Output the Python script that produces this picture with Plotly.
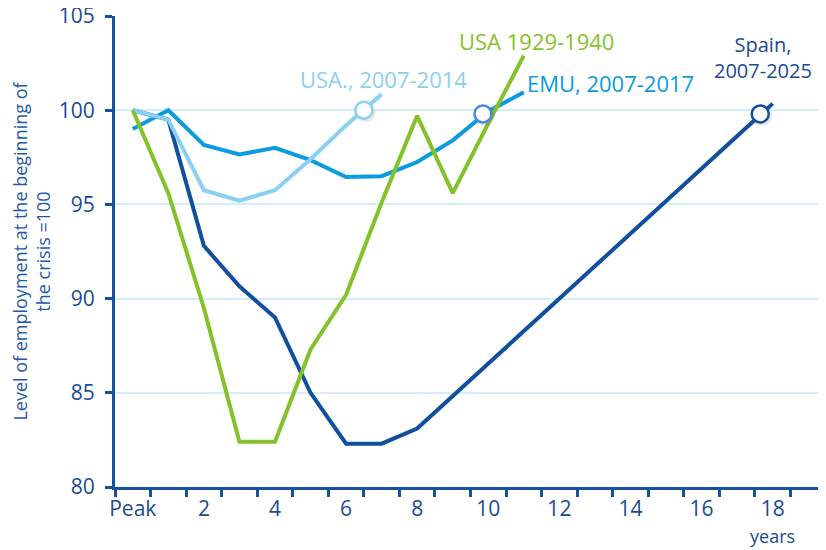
import plotly.graph_objects as go

# ---- data ----
x_labels_vals = [0, 2, 4, 6, 8, 10, 12, 14, 16, 18]
x_labels_text = ["Peak", "2", "4", "6", "8", "10", "12", "14", "16", "18"]
y_ticks = [80, 85, 90, 95, 100, 105]

spain_x = [0, 1, 2, 3, 4, 5, 6, 7, 8, 18]
spain_y = [100, 99.5, 92.8, 90.65, 89.0, 85.0, 82.3, 82.3, 83.1, 100.35]

emu_x = [0, 1, 2, 3, 4, 5, 6, 7, 8, 9, 10, 11]
emu_y = [99.0, 100.0, 98.15, 97.65, 98.0, 97.35, 96.45, 96.5, 97.25, 98.4, 99.95, 100.95]

usa07_x = [0, 1, 2, 3, 4, 5, 6, 7]
usa07_y = [100, 99.5, 95.75, 95.2, 95.75, 97.4, 99.2, 100.85]

usa29_x = [0, 1, 2, 3, 4, 5, 6, 7, 8, 9, 10, 11]
usa29_y = [100, 95.6, 89.5, 82.4, 82.4, 87.3, 90.2, 95.1, 99.7, 95.6, 99.3, 102.9]

# points where employment recovers to the pre-crisis level
recov_x = [6.5, 9.85, 17.65]
recov_y = [100.0, 99.8, 99.8]

NAVY = "#11509f"
EMU_C = "#0a9be0"
LIGHT = "#8ad0f2"
GREEN = "#84c22a"
AXIS = "#1652a0"
TEXT = "#1a4b94"
MARK_BORDER = [LIGHT, "#4a86ea", NAVY]

FONT = "Open Sans"

fig = go.Figure()
fig.add_trace(go.Scatter(x=spain_x, y=spain_y, mode="lines",
                         line=dict(color=NAVY, width=4), hoverinfo="skip"))
fig.add_trace(go.Scatter(x=emu_x, y=emu_y, mode="lines",
                         line=dict(color=EMU_C, width=4), hoverinfo="skip"))
fig.add_trace(go.Scatter(x=usa07_x, y=usa07_y, mode="lines",
                         line=dict(color=LIGHT, width=4), hoverinfo="skip"))
fig.add_trace(go.Scatter(x=usa29_x, y=usa29_y, mode="lines",
                         line=dict(color=GREEN, width=4), hoverinfo="skip"))
# soft shadow under markers
fig.add_trace(go.Scatter(x=[v + 0.05 for v in recov_x], y=[v - 0.1 for v in recov_y],
                         mode="markers",
                         marker=dict(size=20, color="rgba(80,80,80,0.13)", line=dict(width=0)),
                         hoverinfo="skip"))
fig.add_trace(go.Scatter(x=recov_x, y=recov_y, mode="markers",
                         marker=dict(size=17, color="white",
                                     line=dict(color=MARK_BORDER, width=2.5)),
                         hoverinfo="skip"))

fig.add_annotation(x=7.04, y=101.63, xref="x", yref="y", text="USA., 2007-2014",
                   showarrow=False, font=dict(family=FONT, size=22, color=LIGHT))
fig.add_annotation(x=13.44, y=101.47, xref="x", yref="y", text="EMU, 2007-2017",
                   showarrow=False, font=dict(family=FONT, size=22, color=EMU_C))
fig.add_annotation(x=11.35, y=103.65, xref="x", yref="y", text="USA 1929-1940",
                   showarrow=False, font=dict(family=FONT, size=22, color=GREEN))
fig.add_annotation(x=17.74, y=102.8, xref="x", yref="y", text="Spain,<br>2007-2025",
                   showarrow=False, font=dict(family=FONT, size=20, color=TEXT))
fig.add_annotation(x=18.0, y=-0.104, xref="x", yref="paper", yanchor="middle",
                   text="years", showarrow=False,
                   font=dict(family=FONT, size=18, color=TEXT))

# the page body adds an 8px offset, so the figure is sized to compensate
fig.update_layout(
    width=818, height=542,
    margin=dict(l=107, r=0, t=8, b=63),
    paper_bgcolor="white", plot_bgcolor="white",
    showlegend=False,
    font=dict(family=FONT, color=TEXT),
)
fig.update_xaxes(
    range=[-0.5, 19.5], automargin=False,
    tickvals=x_labels_vals, ticktext=x_labels_text,
    ticks="", showgrid=False, zeroline=False,
    showline=True, linecolor=AXIS, linewidth=3,
    tickfont=dict(family=FONT, size=21, color=TEXT),
    ticklabelstandoff=1,
    minor=dict(ticks="outside", tick0=-0.5, dtick=1, ticklen=7, tickwidth=3,
               tickcolor=AXIS, showgrid=False),
)
fig.update_yaxes(
    range=[80, 105], tickvals=y_ticks, automargin=False,
    ticks="outside", ticklen=7, tickwidth=3, tickcolor=AXIS,
    showline=True, linecolor=AXIS, linewidth=3,
    showgrid=True, gridcolor="#d3edfa", gridwidth=1.5, zeroline=False,
    tickfont=dict(family=FONT, size=21, color=TEXT),
    ticklabelstandoff=6, ticklabeloverflow="allow",
    title=dict(text="Level of employment at the beginning of<br>the crisis =100",
               font=dict(family=FONT, size=18, color="#1d5aa8"), standoff=4),
)

fig.write_html("out.html")
